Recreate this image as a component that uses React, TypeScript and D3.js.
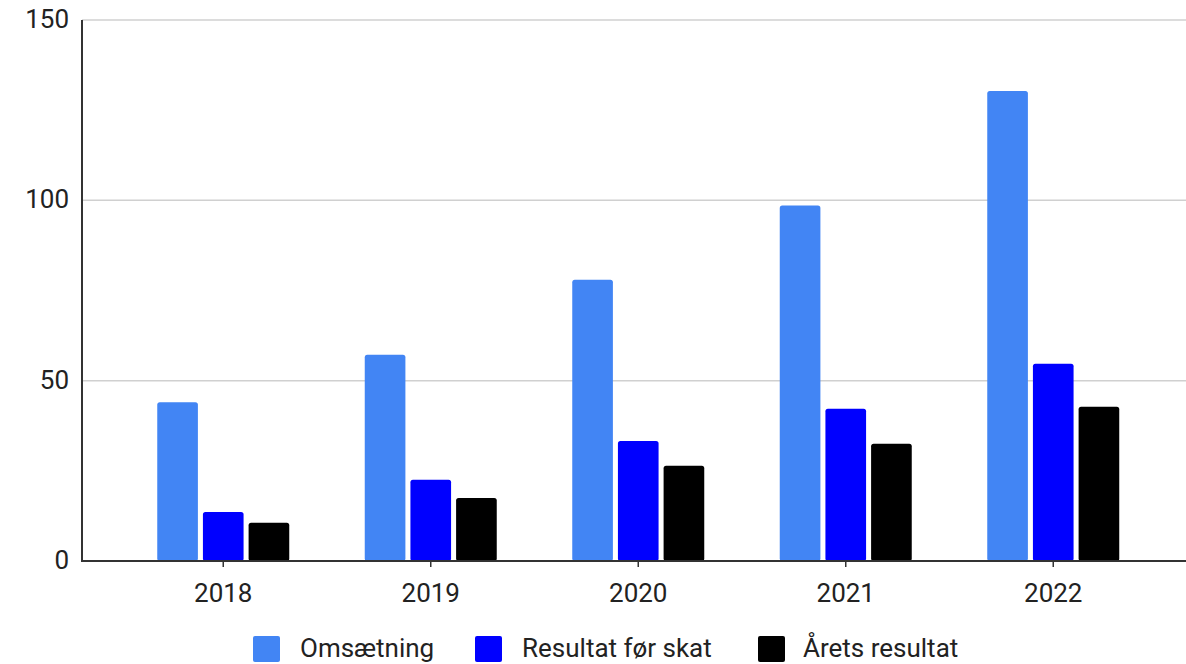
import React from "react";
import * as d3 from "d3";

const years = ["2018", "2019", "2020", "2021", "2022"];
const seriesNames = ["Omsætning", "Resultat før skat", "Årets resultat"];
const omsaetning = [44, 57.2, 78, 98.6, 130.3];
const resultatFoerSkat = [13.6, 22.5, 33.3, 42.2, 54.7];
const aaretsResultat = [10.6, 17.5, 26.4, 32.5, 42.8];
const colors = ["#4285F4", "#0000FF", "#000000"];
const yTicks = [0, 50, 100, 150];

const W = 1186;
const H = 664;

export default function App() {
  const seriesValues = [omsaetning, resultatFoerSkat, aaretsResultat];
  const y = d3.scaleLinear().domain([0, 150]).range([561, 20]);
  const x = d3.scaleBand<string>().domain(years).range([119.5, 1157]).paddingInner(0).paddingOuter(0);
  const inner = d3
    .scaleBand<number>()
    .domain([0, 1, 2])
    .range([x.bandwidth() / 2 - 66, x.bandwidth() / 2 + 66])
    .paddingInner(0.11)
    .paddingOuter(0);
  const font = "Roboto, 'Noto Sans', sans-serif";

  const legendItems = [
    { sx: 253, tx: 300 },
    { sx: 475, tx: 522 },
    { sx: 758, tx: 803 },
  ];

  return (
    <svg width={W} height={H} style={{ position: "absolute", left: 0, top: 0, background: "#fff" }}>
      {yTicks.map((t) => (
        <g key={t}>
          {t > 0 && (
            <line x1={82} x2={W} y1={y(t)} y2={y(t)} stroke="#d0d0d0" strokeWidth={1.5} />
          )}
          <text
            x={69}
            y={y(t) - 1}
            textAnchor="end"
            dominantBaseline="central"
            fontFamily={font}
            fontSize={26}
            fill="#222"
          >
            {t}
          </text>
        </g>
      ))}
      {years.map((yr, i) => (
        <g key={yr} transform={`translate(${x(yr)},0)`}>
          {seriesValues.map((vals, s) => (
            <rect
              key={s}
              x={inner(s)}
              y={y(vals[i])}
              width={inner.bandwidth()}
              height={y(0) - y(vals[i])}
              rx={2.5}
              fill={colors[s]}
            />
          ))}
          <line
            x1={x.bandwidth() / 2}
            x2={x.bandwidth() / 2}
            y1={y(0)}
            y2={y(0) + 6}
            stroke="#333"
            strokeWidth={1.5}
          />
          <text
            x={x.bandwidth() / 2}
            y={593}
            textAnchor="middle"
            dominantBaseline="central"
            fontFamily={font}
            fontSize={26}
            fill="#222"
          >
            {yr}
          </text>
        </g>
      ))}
      <line x1={82} x2={82} y1={20} y2={y(0)} stroke="#333" strokeWidth={2} />
      <line x1={81} x2={W} y1={y(0)} y2={y(0)} stroke="#333" strokeWidth={2} />
      {seriesNames.map((name, s) => (
        <g key={name}>
          <rect x={legendItems[s].sx} y={636} width={27} height={26} rx={2} fill={colors[s]} />
          <text
            x={legendItems[s].tx}
            y={648}
            dominantBaseline="central"
            fontFamily={font}
            fontSize={26}
            fill="#222"
          >
            {name}
          </text>
        </g>
      ))}
    </svg>
  );
}
